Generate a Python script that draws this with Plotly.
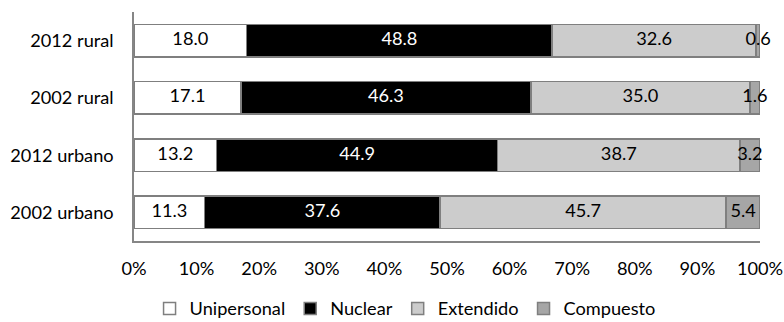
import plotly.graph_objects as go

categories = ["2012 rural", "2002 rural", "2012 urbano", "2002 urbano"]
unipersonal = [18.0, 17.1, 13.2, 11.3]
nuclear = [48.8, 46.3, 44.9, 37.6]
extendido = [32.6, 35.0, 38.7, 45.7]
compuesto = [0.6, 1.6, 3.2, 5.4]

series = [
    ("Unipersonal", unipersonal, "#ffffff", "#000000"),
    ("Nuclear", nuclear, "#000000", "#ffffff"),
    ("Extendido", extendido, "#cccccc", "#000000"),
    ("Compuesto", compuesto, "#a6a6a6", "#000000"),
]

font_family = "Lato, 'Open Sans', sans-serif"
fsize = 18.2

fig = go.Figure()

# stacked segments
for name, vals, fill, _ in series:
    fig.add_trace(go.Bar(
        name=name,
        y=categories,
        x=vals,
        orientation="h",
        marker=dict(color=fill, line=dict(color="#7f7f7f", width=1.5)),
        hoverinfo="x+name",
    ))

# value labels centred on each segment, allowed to overflow narrow ones
base = [0.0] * len(categories)
for name, vals, _, txt in series:
    mids = [b + v / 2 for b, v in zip(base, vals)]
    fig.add_trace(go.Scatter(
        x=mids,
        y=categories,
        mode="text",
        text=[f"{v:.1f}" for v in vals],
        textposition="middle center",
        textfont=dict(color=txt, size=fsize, family=font_family),
        showlegend=False,
        hoverinfo="skip",
        cliponaxis=False,
    ))
    base = [b + v for b, v in zip(base, vals)]

fig.update_layout(
    barmode="stack",
    bargap=0.43,
    width=784,
    height=322,
    margin=dict(l=134, r=24, t=12, b=81, autoexpand=False),
    paper_bgcolor="white",
    plot_bgcolor="white",
    font=dict(family=font_family, size=fsize, color="#000000"),
    legend=dict(
        orientation="h",
        x=0.433, xanchor="center",
        y=-0.295, yanchor="middle",
        font=dict(size=fsize),
        traceorder="normal",
        itemwidth=30,
        bgcolor="rgba(0,0,0,0)",
    ),
    showlegend=True,
)

fig.update_xaxes(
    range=[0, 100],
    dtick=10,
    ticksuffix="%",
    showgrid=False,
    zeroline=False,
    showline=True,
    linecolor="#868686",
    linewidth=1.5,
    ticks="",
    ticklabelstandoff=10,
    tickfont=dict(size=fsize),
    automargin=False,
)

fig.update_yaxes(
    categoryorder="array",
    categoryarray=categories[::-1],
    range=[-0.5, 3.5],
    showgrid=False,
    showline=True,
    linecolor="#868686",
    linewidth=1.5,
    ticks="",
    ticklabelstandoff=15,
    tickfont=dict(size=fsize),
    automargin=False,
)

fig.write_html("out.html")
